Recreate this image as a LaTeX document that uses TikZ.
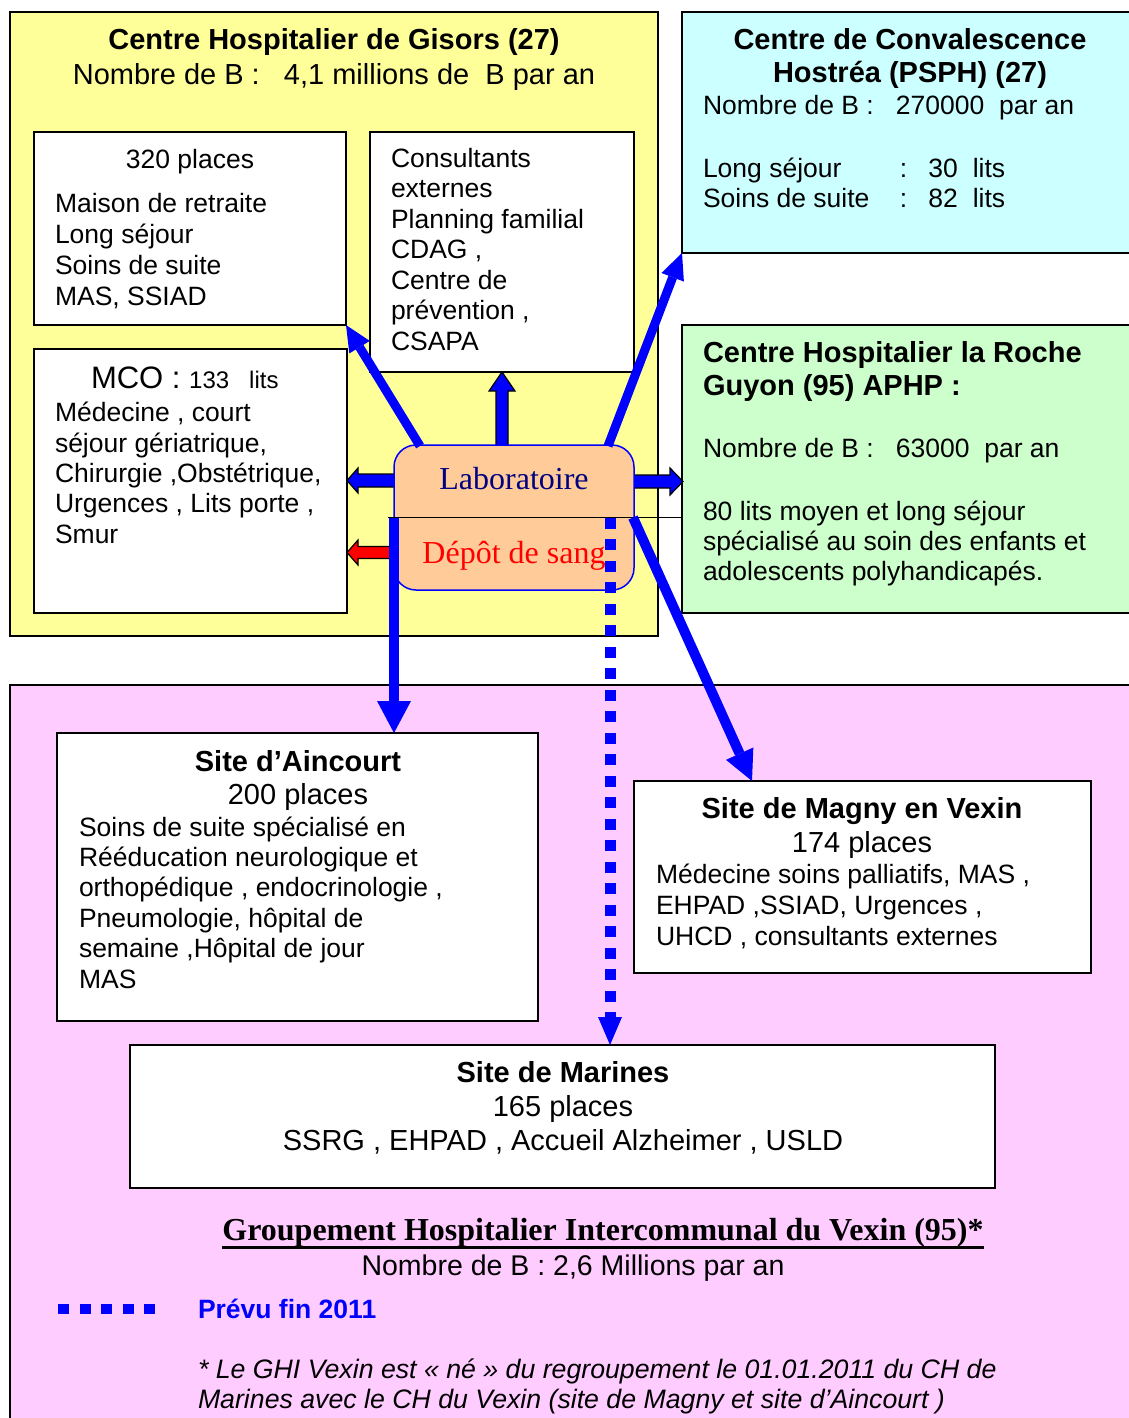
\documentclass[tikz,border=0pt]{standalone}
\usepackage{fontspec}
\setmainfont{Liberation Sans}
\newfontfamily\timesf{Liberation Serif}
\usetikzlibrary{arrows.meta,calc}
\newcommand\myfs[2]{\fontsize{#1}{#2}\selectfont}
\definecolor{ybg}{HTML}{FFFF99}
\definecolor{cbg}{HTML}{CCFFFF}
\definecolor{gbg}{HTML}{CCFFCC}
\definecolor{pbg}{HTML}{FFCCFF}
\definecolor{peach}{HTML}{FFCC99}
\definecolor{navy}{HTML}{000080}
\begin{document}
\begin{tikzpicture}[x=1pt,y=-1pt,
  box/.style={draw=black, line width=1.5pt, inner sep=0pt, outer sep=0pt, anchor=north west},
  txl/.style={inner sep=0pt, outer sep=0pt, anchor=base west, align=left},
  txc/.style={inner sep=0pt, outer sep=0pt, anchor=base, align=center},
  bodytxt/.style={font=\myfs{26.5}{30.6}},
  bigtxt/.style={font=\myfs{29}{33.5}},
  bigbold/.style={font=\myfs{29}{33.5}\bfseries},
  blk/.style={draw=black, line width=1.2pt, line join=miter},
  thickarr/.style={draw=blue, line width=9pt, -{Triangle[length=26pt,width=24pt,line width=0pt]}},
  fatarr/.style={draw=blue, line width=10pt, -{Triangle[length=32pt,width=34pt,line width=0pt]}},
  magarr/.style={draw=blue, line width=10pt, -{Triangle[length=30pt,width=30pt,line width=0pt]}},
  dotarr/.style={draw=blue, line width=11pt, dash pattern=on 11pt off 10.5pt, -{Triangle[length=28pt,width=24pt,line width=0pt]}},
]
\clip (0,0) rectangle (1129,1418);
\fill[white] (0,0) rectangle (1129,1418);
% background areas
\node[box, fill=ybg, minimum width=648pt, minimum height=624pt] (gisors) at (10,12) {};
\node[box, fill=cbg, minimum width=470pt, minimum height=241pt] (conv) at (682,12) {};
\node[box, fill=gbg, minimum width=470pt, minimum height=288pt] (roche) at (682,325) {};
\node[box, fill=pbg, minimum width=1140pt, minimum height=760pt] (vexin) at (10,685) {};
% inner boxes
\node[box, fill=white, minimum width=312pt, minimum height=193pt] (maison) at (34,132) {};
\node[box, fill=white, minimum width=264pt, minimum height=240pt] (consult) at (370,132) {};
\node[box, fill=white, minimum width=313pt, minimum height=264pt] (mco) at (34,349) {};
\node[box, fill=white, minimum width=481pt, minimum height=288pt] (ainc) at (57,733) {};
\node[box, fill=white, minimum width=457pt, minimum height=192pt] (magny) at (634,781) {};
\node[box, fill=white, minimum width=865pt, minimum height=143pt] (marines) at (130,1045) {};

% Gisors texts
\node[txc, bigbold] (t1) at (334,50) {Centre Hospitalier de Gisors (27)};
\node[txc, bigtxt] (t2) at (334,85) {Nombre de B :\ \ \ 4,1 millions de\ \ B par an};
\node[txc, bodytxt] (t3) at (190,168) {320 places};
\node[txl, font=\myfs{26.5}{30.7}] (t4) at (55,305) {Maison de retraite\\Long séjour\\Soins de suite\\MAS, SSIAD};
\node[txl, font=\myfs{26.5}{30.5}] (t5) at (391,350) {Consultants\\externes\\Planning familial\\CDAG ,\\Centre de\\prévention ,\\CSAPA};
\node[txl] (t6) at (91,388) {{\myfs{31}{31}MCO :\ }{\myfs{24}{24}133\ \ \ lits}};
\node[txl, font=\myfs{26.5}{30.3}] (t7) at (55,543) {Médecine , court\\séjour gériatrique,\\Chirurgie ,Obstétrique,\\Urgences , Lits porte ,\\Smur};

% Convalescence texts
\node[txc, font=\myfs{29}{33}\bfseries] (t8) at (910,83) {Centre de Convalescence\\Hostréa (PSPH) (27)};
\node[txl, bodytxt] (t9) at (703,115) {Nombre de B :\ \ \ 270000\ \ par an};
\node[txl, font=\myfs{26.5}{30}] (t10) at (703,207) {\makebox[197pt][l]{Long séjour}:\hspace{21pt}30\hspace{15pt}lits\\\makebox[197pt][l]{Soins de suite}:\hspace{21pt}82\hspace{15pt}lits};

% Roche Guyon texts
\node[txl, font=\myfs{29}{33}\bfseries] (t11) at (703,395) {Centre Hospitalier la Roche\\Guyon (95) APHP :};
\node[txl, bodytxt] (t12) at (703,457) {Nombre de B :\ \ \ 63000\ \ par an};
\node[txl, font=\myfs{26.5}{30}] (t13) at (703,580) {80 lits moyen et long séjour\\spécialisé au soin des enfants et\\adolescents polyhandicapés.};

% block arrows around the laboratory
\coordinate (tipL) at (347,480.5);
\filldraw[blk, fill=blue] (tipL) -- ++(11,-12.5) -- ++(0,6) -- ++(40,0) -- ++(0,13) -- ++(-40,0) -- ++(0,6) -- cycle;
\coordinate (tipR) at (683,481.5);
\filldraw[blk, fill=blue] (tipR) -- ++(-13,-13.5) -- ++(0,7) -- ++(-40,0) -- ++(0,13) -- ++(40,0) -- ++(0,7) -- cycle;
\coordinate (tipRed) at (347,552.5);
\filldraw[blk, fill=red] (tipRed) -- ++(11,-12.5) -- ++(0,6.5) -- ++(42,0) -- ++(0,12) -- ++(-42,0) -- ++(0,6.5) -- cycle;
\filldraw[blk, fill=blue] (consult.south) -- ++(13,19) -- ++(-7,0) -- ++(0,58) -- ++(-12,0) -- ++(0,-58) -- ++(-7,0) -- cycle;

% laboratory
\node[draw=blue, line width=1.5pt, fill=peach, rounded corners=22pt, minimum width=240pt, minimum height=145pt, inner sep=0pt, outer sep=0pt, anchor=north west] (lab) at (394,445) {};
\node[txc, font=\timesf\myfs{32}{32}, text=navy] (t14) at (514,489) {Laboratoire};
\node[txc, font=\timesf\myfs{32}{32}, text=red] (t15) at (514,563) {Dépôt de sang};
\draw[line width=1.5pt] ($(lab.west)+(-6,0)$) -- (lab.west -| roche.west);

% connectors
\draw[thickarr] ($(lab.north west)+(26,1)$) -- (maison.south east);
\draw[thickarr] ($(lab.north east)+(-26,1)$) -- (conv.south west);
\draw[fatarr] (lab.west) -- (lab.west |- ainc.north);
\coordinate (dstart) at ($(lab.east)+(-24,0)$);
\draw[dotarr] (dstart) -- (dstart |- marines.north);
\draw[magarr] ($(lab.east)+(-1,0)$) -- ($(magny.north west)+(118,0)$);

% Aincourt
\node[txc, bigbold] (t16) at (298,771) {Site d’Aincourt};
\node[txc, bigtxt] (t17) at (298,804) {200 places};
\node[txl, font=\myfs{26.5}{30.4}] (t18) at (79,988) {Soins de suite spécialisé en\\Rééducation neurologique et\\orthopédique , endocrinologie ,\\Pneumologie, hôpital de\\semaine ,Hôpital de jour\\MAS};

% Magny
\node[txc, bigbold] (t19) at (862,818) {Site de Magny en Vexin};
\node[txc, bigtxt] (t20) at (862,852) {174 places};
\node[txl, font=\myfs{26.5}{31}] (t21) at (656,945) {Médecine soins palliatifs, MAS ,\\EHPAD ,SSIAD, Urgences ,\\UHCD , consultants externes};

% Marines
\node[txc, font=\myfs{29}{34}] (t22) at (563,1150) {{\bfseries Site de Marines}\\165 places\\SSRG , EHPAD , Accueil Alzheimer , USLD};

% GHI title
\node[txc, font=\timesf\bfseries\myfs{32}{32}] (grp) at (603,1240) {Groupement Hospitalier Intercommunal du Vexin (95)*};
\draw[line width=2.5pt] ($(grp.south west)+(0,0.5)$) -- ($(grp.south east)+(0,0.5)$);
\node[txc, font=\myfs{28.5}{30}] (t23) at (573,1275) {Nombre de B : 2,6 Millions par an};

% legend
\coordinate (legA) at (58,1309);
\coordinate (legB) at (156,1309);
\draw[blue, line width=10pt, dash pattern=on 11pt off 10.5pt] (legA) -- (legB);
\node[txl, font=\myfs{26.5}{30}\bfseries, text=blue] (t24) at (198,1318) {Prévu fin 2011};
\node[txl, font=\myfs{26.7}{30}\itshape] (t25) at (198,1408) {* Le GHI Vexin est « né » du regroupement le 01.01.2011 du CH de\\Marines avec le CH du Vexin (site de Magny et site d’Aincourt )};
\end{tikzpicture}
\end{document}
